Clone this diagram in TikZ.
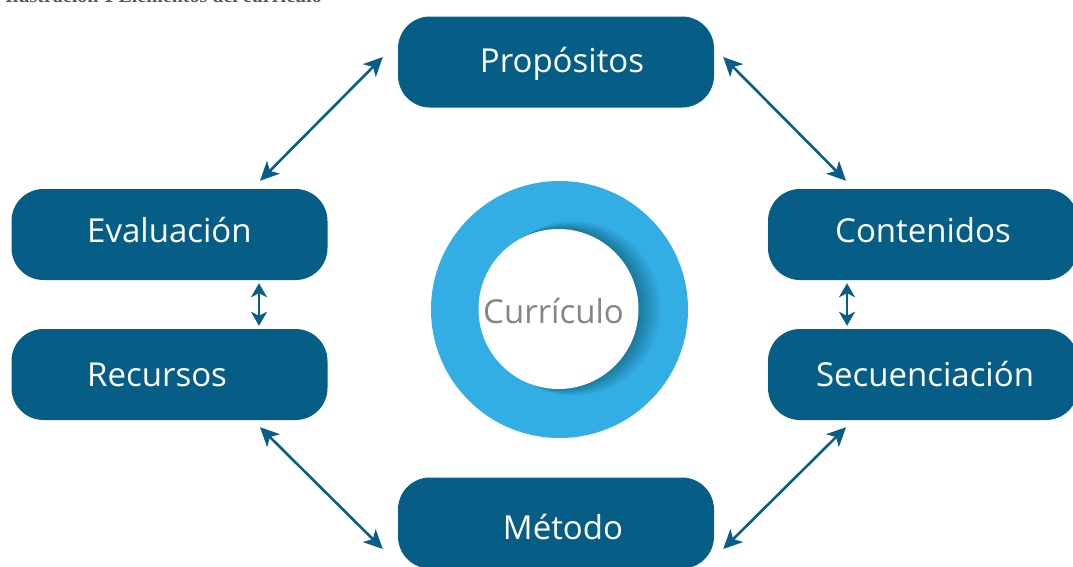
\documentclass[tikz,border=0pt]{standalone}
\usepackage{fontspec}
\setmainfont{Open Sans}
\newfontfamily\capfont{Liberation Serif}
\usetikzlibrary{arrows.meta,calc}
\definecolor{boxblue}{HTML}{065E86}
\definecolor{arrblue}{HTML}{0A5E85}
\definecolor{ringblue}{HTML}{33AEE5}
\definecolor{txtgray}{HTML}{858585}
\tikzset{
  box/.style={fill=boxblue, rounded corners=32pt, minimum width=316pt, minimum height=91pt, inner sep=0pt, draw=none},
  lbl/.style={text=white, font=\fontsize{33}{38}\selectfont, inner sep=0pt},
  arr/.style={draw=arrblue, line width=2.6pt, {Stealth[length=19pt,width=18pt,inset=5pt]}-{Stealth[length=19pt,width=18pt,inset=5pt]}},
  varr/.style={draw=arrblue, line width=2.6pt, {Stealth[length=14pt,width=16pt,inset=4pt]}-{Stealth[length=14pt,width=16pt,inset=4pt]}},
}
\begin{document}
\begin{tikzpicture}[x=1pt,y=-1pt]
\useasboundingbox (0,0) rectangle (1073,566);
% caption (cut off at top)
\node[anchor=base west, inner sep=0pt, text=black!65, font=\capfont\bfseries\fontsize{20}{24}\selectfont] (cap) at (5,2.5) {Ilustración 1 Elementos del currículo};
% boxes
\node[box] (prop) at (556,62) {};
\node[box] (eval) at (169.5,234.5) {};
\node[box] (recu) at (169.5,374.5) {};
\node[box, minimum width=310pt] (cont) at (923,234.5) {};
\node[box, minimum width=310pt] (secu) at (923,374.5) {};
\node[box] (meto) at (556,523) {};
% labels
\node[lbl, anchor=base] (propT) at (562,72) {Propósitos};
\node[lbl, anchor=base west] (evalT) at (87,242) {Evaluación};
\node[lbl, anchor=base west] (recuT) at (87,386) {Recursos};
\node[lbl, anchor=base] (contT) at (923,242) {Contenidos};
\node[lbl, anchor=base] (secuT) at (925,386) {Secuenciación};
\node[lbl, anchor=base] (metoT) at (563,539) {Método};
% ring
\begin{scope}
  \fill[ringblue] (559.5,309.5) circle (128.5);
  \clip (559.5,309.5) circle (128.5);
  \foreach \i in {1,...,26} {
    \fill[black, opacity=0.011] (558.5+\i*0.6,308.5) circle (79.5+\i*0.3);
  }
\end{scope}
\node[circle, fill=white, minimum size=160pt, inner sep=0pt] (hole) at (558.5,309) {};
\node[text=txtgray, font=\fontsize{33}{38}\selectfont, anchor=base, inner sep=0pt] (curr) at (553.5,323) {Currículo};
% arrows
\draw[arr] ([shift={(-15,-5)}]prop.west) -- ([shift={(90.5,-8)}]eval.north);
\draw[arr] ([shift={(9,-5)}]prop.east) -- ([shift={(-77,-8)}]cont.north);
\draw[varr] ([shift={(89.5,3)}]eval.south) -- ([shift={(89.5,-3)}]recu.north);
\draw[varr] ([shift={(-76,3)}]cont.south) -- ([shift={(-76,-3)}]secu.north);
\draw[arr] ([shift={(90.5,7)}]recu.south) -- ([shift={(-15,26)}]meto.west);
\draw[arr] ([shift={(-77,7)}]secu.south) -- ([shift={(9,26)}]meto.east);
\end{tikzpicture}
\end{document}
